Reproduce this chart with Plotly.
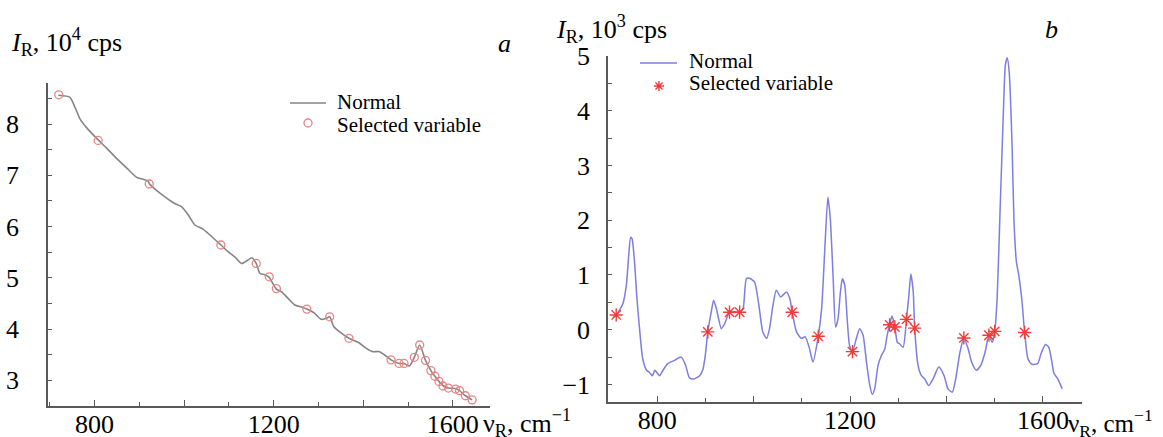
import math
import plotly.graph_objects as go

W, H = 1163, 437

# ---------------- panel a data ----------------
a_line_x = [719, 745, 757, 768, 783, 808, 827, 849, 872, 894, 909, 920, 922, 935, 957,
            979, 994, 1009, 1024, 1042, 1057, 1082, 1098, 1113, 1128, 1143, 1151, 1161, 1169, 1180,
            1190, 1198, 1206, 1217, 1232, 1247, 1262, 1274, 1291, 1306, 1317, 1325, 1334, 1351, 1368,
            1391, 1406, 1421, 1436, 1447, 1462, 1480, 1491, 1503, 1514, 1526, 1539, 1551, 1560, 1569,
            1578, 1590, 1606, 1615, 1628, 1643]
a_line_y = [8.56, 8.52, 8.31, 8.09, 7.92, 7.69, 7.53, 7.33, 7.14, 6.96, 6.92, 6.88, 6.84, 6.73, 6.58,
            6.45, 6.39, 6.23, 6.03, 5.95, 5.84, 5.64, 5.51, 5.41, 5.28, 5.35, 5.39, 5.28, 5.09, 5.06,
            5.01, 4.89, 4.78, 4.73, 4.60, 4.47, 4.43, 4.39, 4.31, 4.19, 4.21, 4.24, 4.05, 3.92, 3.82,
            3.73, 3.63, 3.56, 3.56, 3.50, 3.40, 3.33, 3.33, 3.28, 3.45, 3.69, 3.39, 3.19, 3.08, 2.98,
            2.90, 2.85, 2.84, 2.80, 2.70, 2.62]
a_sel_x = [720, 808, 922, 1082, 1161, 1190, 1206, 1274, 1325, 1368, 1462, 1480, 1491, 1514, 1526,
           1539, 1551, 1560, 1569, 1578, 1590, 1606, 1615, 1628, 1643]
a_sel_y = [8.57, 7.68, 6.83, 5.64, 5.28, 5.02, 4.79, 4.39, 4.24, 3.82, 3.40, 3.33, 3.33, 3.45, 3.69,
           3.39, 3.19, 3.08, 2.98, 2.89, 2.85, 2.83, 2.80, 2.70, 2.62]

# ---------------- panel b data ----------------
b_line_x = [708, 715, 722, 729, 736, 741, 745, 748, 753, 758, 764, 770, 778, 784, 790, 795, 800, 805,
            812, 822, 836, 850, 859, 867, 876, 888, 895, 900, 905, 912, 917, 923, 933, 940, 950, 960,
            971, 978, 985, 992, 1002, 1011, 1019, 1027, 1033, 1040, 1047, 1056, 1068, 1075, 1080, 1089,
            1099, 1107, 1116, 1123, 1134, 1141, 1148, 1154, 1159, 1165, 1170, 1175, 1180, 1184, 1189,
            1194, 1199, 1205, 1213, 1220, 1227, 1234, 1241, 1246, 1251, 1258, 1265, 1272, 1277, 1282,
            1287, 1293, 1298, 1303, 1310, 1317, 1322, 1326, 1331, 1334, 1341, 1348, 1355, 1363, 1372,
            1384, 1395, 1403, 1412, 1419, 1428, 1436, 1445, 1452, 1462, 1471, 1480, 1488, 1495, 1500,
            1505, 1511, 1518, 1522, 1526, 1530, 1536, 1540, 1545, 1550, 1556, 1562, 1569, 1577, 1589,
            1596, 1605, 1612, 1618, 1623, 1631, 1640]
b_line_y = [0.22, 0.27, 0.36, 0.48, 0.81, 1.36, 1.69, 1.66, 1.24, 0.57, -0.04, -0.53, -0.74, -0.78,
            -0.84, -0.74, -0.79, -0.84, -0.74, -0.62, -0.56, -0.50, -0.65, -0.88, -0.90, -0.84, -0.72,
            -0.45, -0.04, 0.32, 0.54, 0.38, 0.02, 0.11, 0.32, 0.33, 0.32, 0.38, 0.93, 0.94, 0.87, 0.44,
            -0.04, -0.16, 0.02, 0.44, 0.72, 0.60, 0.69, 0.57, 0.32, -0.04, -0.16, -0.13, -0.35, -0.59,
            -0.12, 0.38, 1.54, 2.42, 2.03, 0.93, 0.05, 0.20, 0.69, 0.93, 0.81, 0.20, -0.29, -0.40,
            -0.16, 0.02, -0.10, -0.59, -1.02, -1.18, -1.08, -0.65, -0.47, -0.35, -0.10, 0.09, 0.25,
            0.05, -0.23, -0.26, -0.32, 0.19, 0.63, 1.02, 0.69, 0.03, -0.65, -0.84, -0.90, -1.02, -0.90,
            -0.68, -0.84, -1.08, -1.14, -0.90, -0.41, -0.15, -0.35, -0.59, -0.74, -0.65, -0.41, -0.10,
            -0.23, -0.03, 0.57, 2.15, 3.98, 4.83, 4.97, 4.71, 3.37, 1.97, 1.24, 0.99, 0.57, -0.05,
            -0.53, -0.63, -0.62, -0.44, -0.27, -0.32, -0.56, -0.80, -0.90, -1.08]
b_sel_x = [715, 905, 950, 971, 1080, 1134, 1205, 1282, 1293, 1317, 1334, 1436, 1488, 1500, 1562]
b_sel_y = [0.27, -0.04, 0.32, 0.32, 0.32, -0.12, -0.40, 0.09, 0.05, 0.19, 0.03, -0.15, -0.10, -0.03, -0.05]

# tick labels
x_major = [800, 1000, 1200, 1400, 1600]
x_major_text = ["800", " ", "1200", " ", "1600"]
x_minor = [700, 900, 1100, 1300, 1500]
a_y_major = [3, 4, 5, 6, 7, 8]
a_y_minor = [3.5, 4.5, 5.5, 6.5, 7.5, 8.5]
b_y_major = [-1, 0, 1, 2, 3, 4, 5]
b_y_minor = [-0.5, 0.5, 1.5, 2.5, 3.5, 4.5]

legend_names = ["Normal", "Selected variable"]

SERIF = "Liberation Serif"
AX = "#5a5a5a"
A_LINE = "#858585"
A_MARK = "#e98484"
B_LINE = "#7d7de3"
B_MARK = "#f23c3c"

fig = go.Figure()
fig.add_trace(go.Scatter(x=a_line_x, y=a_line_y, mode="lines", name=legend_names[0],
                         line=dict(color=A_LINE, width=1.6, shape="spline", smoothing=0.6),
                         xaxis="x", yaxis="y", showlegend=False))
fig.add_trace(go.Scatter(x=a_sel_x, y=a_sel_y, mode="markers", name=legend_names[1],
                         marker=dict(symbol="circle-open", size=8, color=A_MARK, line=dict(width=1.3)),
                         xaxis="x", yaxis="y", showlegend=False))
fig.add_trace(go.Scatter(x=b_line_x, y=b_line_y, mode="lines", name=legend_names[0],
                         line=dict(color=B_LINE, width=1.5, shape="spline", smoothing=0.6),
                         xaxis="x2", yaxis="y2", showlegend=False))
fig.add_trace(go.Scatter(x=b_sel_x, y=b_sel_y, mode="markers", name=legend_names[1],
                         marker=dict(symbol="asterisk-open", size=11, color=B_MARK,
                                     line=dict(width=1.4, color=B_MARK)),
                         xaxis="x2", yaxis="y2", showlegend=False))


def px_x(p):
    return p / W


def px_y(p):
    return 1 - p / H


common = dict(showline=True, linecolor=AX, linewidth=1.5, ticks="inside", tickcolor=AX,
              tickwidth=1.2, showgrid=False, zeroline=False, automargin=False,
              tickfont=dict(family=SERIF, size=26, color="black"))

fig.update_layout(
    width=W, height=H, autosize=False,
    margin=dict(l=0, r=0, t=0, b=0, pad=0, autoexpand=False),
    paper_bgcolor="white", plot_bgcolor="white",
    font=dict(family=SERIF, color="black"),
    showlegend=False,
    xaxis=dict(domain=[px_x(48), px_x(490)], range=[696, 1683], anchor="y",
               tickmode="array", tickvals=x_major, ticktext=x_major_text, ticklen=6,
               ticklabelstandoff=-6,
               minor=dict(tickmode="array", tickvals=x_minor, ticks="inside", ticklen=4, tickcolor=AX),
               **common),
    yaxis=dict(domain=[px_y(406), px_y(83)], range=[2.5, 8.8], anchor="x",
               tickmode="array", tickvals=a_y_major, ticklen=4, ticklabelstandoff=22,
               minor=dict(tickmode="array", tickvals=a_y_minor, ticks="inside", ticklen=4, tickcolor=AX),
               **common),
    xaxis2=dict(domain=[px_x(608), px_x(1082)], range=[698, 1681], anchor="y2",
                tickmode="array", tickvals=x_major, ticktext=x_major_text, ticklen=6,
                ticklabelstandoff=-6,
                minor=dict(tickmode="array", tickvals=x_minor, ticks="inside", ticklen=4, tickcolor=AX),
                **common),
    yaxis2=dict(domain=[px_y(402), px_y(56)], range=[-1.32, 5.0], anchor="x2",
                tickmode="array", tickvals=b_y_major, ticklen=4, ticklabelstandoff=11,
                minor=dict(tickmode="array", tickvals=b_y_minor, ticks="inside", ticklen=4, tickcolor=AX),
                **common),
)

ann_font = dict(family=SERIF, size=26, color="black")
leg_font = dict(family=SERIF, size=21, color="black")


def ann(text, x, y, font, xanchor="left"):
    fig.add_annotation(text=text, x=px_x(x), y=px_y(y), xref="paper", yref="paper",
                       xanchor=xanchor, yanchor="middle", showarrow=False, font=font)


ann("<i>I</i><sub>R</sub>, 10<sup>4</sup> cps", 9, 42, ann_font)
ann("<i>a</i>", 504, 43, ann_font, "center")
ann("<i>I</i><sub>R</sub>, 10<sup>3</sup> cps", 554, 29, ann_font)
ann("<i>b</i>", 1051, 29, ann_font, "center")
ann("ν<sub>R</sub>, cm<sup>−1</sup>", 481, 423, ann_font)
ann("ν<sub>R</sub>, cm<sup>−1</sup>", 1066, 423, dict(family=SERIF, size=25, color="black"))

# ---- legend panel a (drawn by hand for tight spacing) ----
ann(legend_names[0], 335, 102, leg_font)
ann(legend_names[1], 335, 125, leg_font)
fig.add_shape(type="line", xref="paper", yref="paper", x0=px_x(290), x1=px_x(326),
              y0=px_y(103), y1=px_y(103), line=dict(color=A_LINE, width=1.6))
fig.add_shape(type="circle", xref="paper", yref="paper", x0=px_x(304), x1=px_x(312),
              y0=px_y(127), y1=px_y(119), line=dict(color=A_MARK, width=1.3))

# ---- legend panel b ----
ann(legend_names[0], 687, 61, leg_font)
ann(legend_names[1], 687, 83, leg_font)
fig.add_shape(type="line", xref="paper", yref="paper", x0=px_x(640), x1=px_x(677),
              y0=px_y(63), y1=px_y(63), line=dict(color=B_LINE, width=1.5))
cx, cy, r = 659, 86, 5
path = ""
for ang in (0, 45, 90, 135):
    dx = r * math.cos(math.radians(ang))
    dy = r * math.sin(math.radians(ang))
    path += f"M{px_x(cx - dx)},{px_y(cy - dy)} L{px_x(cx + dx)},{px_y(cy + dy)} "
fig.add_shape(type="path", xref="paper", yref="paper", path=path.strip(),
              line=dict(color=B_MARK, width=1.4))

fig.write_html("out.html", config={"displayModeBar": False},
               post_script="document.body.style.margin='0px';document.body.style.overflow='hidden';")
